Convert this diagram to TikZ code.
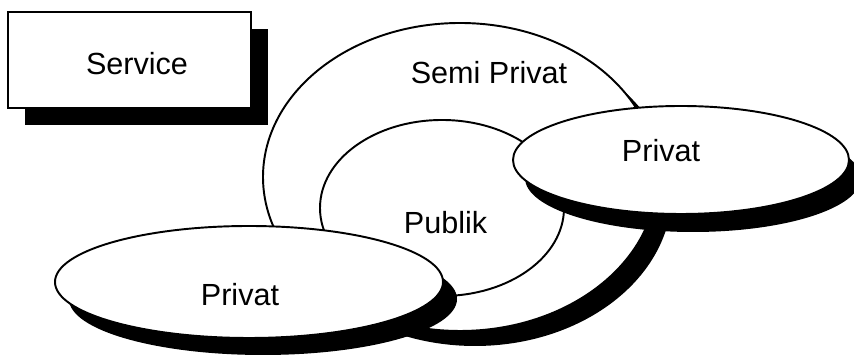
\documentclass[tikz,border=0pt]{standalone}
\usepackage{fontspec}
\setmainfont{Liberation Sans}
\usetikzlibrary{shapes.geometric,shadows}
\begin{document}
\begin{tikzpicture}[
    zone/.style={draw,ellipse,fill=white,line width=1.1pt,inner sep=0pt},
    castshadow/.style 2 args={drop shadow={shadow xshift=#1,shadow yshift=#2,fill=black,opacity=1}},
    lbl/.style={font=\fontsize{17.4}{20}\selectfont}]
      \useasboundingbox (0,0) rectangle (17.08,7.14);
      \node[draw,fill=white,line width=1.1pt,minimum width=4.86cm,minimum height=1.92cm,
            castshadow={0.34cm}{-0.34cm}] (service) at (2.59,5.94) {};

      \def \Zones {
        semi/9.2/3.6/7.88/6.16/0.3/-0.3,
        publik/8.84/2.98/4.88/3.52/0/0,
        privatl/4.98/1.5/7.76/2.24/0.28/-0.34,
        privatr/13.62/3.94/6.72/2.16/0.24/-0.36}
      \def \Labels {
        servicelbl/2.74/5.86/Service,
        semilbl/9.78/5.68/Semi Privat,
        publiklbl/8.91/2.68/Publik,
        privatllbl/4.8/1.24/Privat,
        privatrlbl/13.22/4.12/Privat}

      \foreach \id / \x / \y / \w / \h / \dx / \dy in \Zones {
        \node[zone,minimum width=\w cm,minimum height=\h cm,
              castshadow={\dx cm}{\dy cm}] (\id) at (\x, \y) {};
      }
      \foreach \id / \x / \y / \t in \Labels {
        \node[lbl] (\id) at (\x, \y) {\t};
      }
\end{tikzpicture}
\end{document}
